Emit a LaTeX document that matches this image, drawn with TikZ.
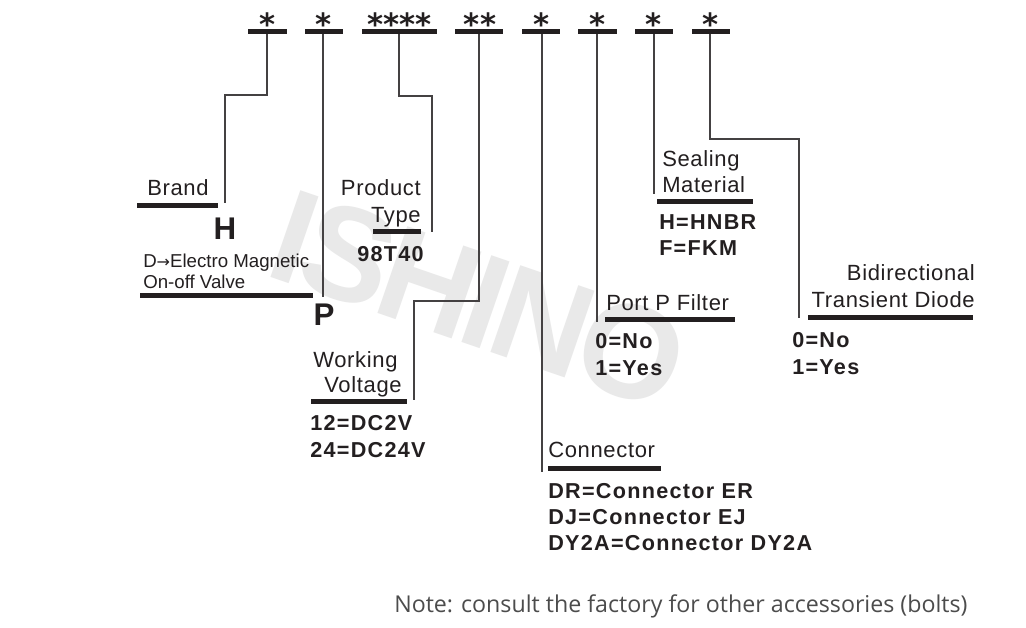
\documentclass[tikz,border=0pt]{standalone}
\usepackage{fontspec}
\setmainfont{Liberation Sans}
\newfontfamily\notefont{Open Sans}
\newfontfamily\starfont{DejaVu Sans}
\definecolor{ink}{RGB}{35,31,32}
\definecolor{wm}{RGB}{233,233,233}
\begin{document}
\begin{tikzpicture}[x=0.75pt,y=-0.75pt,
  lbl/.style={font=\fontsize{16.5}{18}\selectfont\addfontfeature{LetterSpace=3}, text=ink, inner sep=0, anchor=base west},
  lble/.style={lbl, anchor=base east},
  small/.style={font=\fontsize{14}{16}\selectfont, text=ink, inner sep=0, anchor=base west},
  val/.style={font=\fontsize{16.2}{17}\selectfont\bfseries\addfontfeature{LetterSpace=6}, text=ink, inner sep=0, anchor=base west},
  big/.style={font=\fontsize{23.5}{24}\selectfont\bfseries, text=ink, inner sep=0, anchor=base},
  star/.style={font=\starfont\bfseries\fontsize{23}{24}\selectfont, text=ink, inner sep=0, anchor=base},
  thickbar/.style={line width=3.75pt, ink},
  conn/.style={line width=1pt, ink!85},
]
\useasboundingbox[fill=white] (0,0) rectangle (1026,628);

% watermark
\node[font=\fontsize{100}{100}\selectfont\bfseries\addfontfeature{LetterSpace=-5}, text=wm, rotate=-19, inner sep=0] (wmk) at (479,300) {ISHINO};

% top code bars
\coordinate (b1) at (267,31.8);
\coordinate (b2) at (323,31.8);
\coordinate (b3) at (399,31.8);
\coordinate (b4) at (479,31.8);
\coordinate (b5) at (542,31.8);
\coordinate (b6) at (597,31.8);
\coordinate (b7) at (654,31.8);
\coordinate (b8) at (710,31.8);
\draw[thickbar] (248,31.8) -- (287,31.8);
\draw[thickbar] (305,31.8) -- (343,31.8);
\draw[thickbar] (362,31.8) -- (437,31.8);
\draw[thickbar] (455,31.8) -- (503,31.8);
\draw[thickbar] (522,31.8) -- (560,31.8);
\draw[thickbar] (578,31.8) -- (617,31.8);
\draw[thickbar] (635,31.8) -- (673,31.8);
\draw[thickbar] (692,31.8) -- (730,31.8);

\node[star] (s1) at (268,35.5) {*};
\node[star] (s2) at (324,35.5) {*};
\node[star] (s3) at (399.5,35.5) {****};
\node[star] (s4) at (480,35.5) {**};
\node[star] (s5) at (542,35.5) {*};
\node[star] (s6) at (598,35.5) {*};
\node[star] (s7) at (654,35.5) {*};
\node[star] (s8) at (711,35.5) {*};

% end points of connectors
\coordinate (e1) at (225,203);
\coordinate (e2) at (323,297);
\coordinate (e3) at (432,232);
\coordinate (e4) at (414,400);
\coordinate (e5) at (542,472);
\coordinate (e6) at (597,322);
\coordinate (e7) at (654,194);
\coordinate (e8) at (799,318);

\draw[conn] ([yshift=-1.9pt]b1) |- (225,95) -- (e1);
\draw[conn] ([yshift=-1.9pt]b2) -- (e2);
\draw[conn] ([yshift=-1.9pt]b3) |- (432,96) -- (e3);
\draw[conn] ([yshift=-1.9pt]b4) |- (414,301) -- (e4);
\draw[conn] ([yshift=-1.9pt]b5) -- (e5);
\draw[conn] ([yshift=-1.9pt]b6) -- (e6);
\draw[conn] ([yshift=-1.9pt]b7) -- (e7);
\draw[conn] ([yshift=-1.9pt]b8) |- (799,139) -- (e8);

% label underlines
\draw[thickbar] (137,205.5) -- (218,205.5);
\draw[thickbar] (140,295) -- (313,295);
\draw[thickbar] (373,231) -- (421,231);
\draw[thickbar] (311,401.5) -- (407,401.5);
\draw[thickbar] (548,468) -- (661,468);
\draw[thickbar] (605,319.5) -- (735,319.5);
\draw[thickbar] (657,201.5) -- (753,201.5);
\draw[thickbar] (808,317.5) -- (973,317.5);

% Brand
\node[lbl] (brand) at (147,195) {Brand};
\node[big] (h) at (225,239) {H};
\node[small] (d1) at (143,267) {D{\starfont\fontsize{12}{14}\selectfont →}Electro Magnetic};
\node[small] (d2) at (143,288) {On-off Valve};
\node[big] (p) at (324,325) {P};

% Product type
\node[lble] (prod1) at (421,195) {Product};
\node[lble] (prod2) at (421,222) {Type};
\node[val] (prodv) at (357,261) {98T40};

% Working voltage
\node[lbl] (wv1) at (313,367) {Working};
\node[lble] (wv2) at (402,392) {Voltage};
\node[val] (wva) at (310,430) {12=DC2V};
\node[val] (wvb) at (310,457) {24=DC24V};

% Connector
\node[lbl] (con) at (548,457) {Connector};
\node[val] (cona) at (548,498) {DR=Connector ER};
\node[val] (conb) at (548,524) {DJ=Connector EJ};
\node[val] (conc) at (548,550) {DY2A=Connector DY2A};

% Port P filter
\node[lbl] (pf) at (606,310) {Port P Filter};
\node[val] (pfa) at (595,348) {0=No};
\node[val] (pfb) at (595,375) {1=Yes};

% Sealing material
\node[lbl] (sm1) at (662,166) {Sealing};
\node[lbl] (sm2) at (662,192) {Material};
\node[val] (sma) at (659,229) {H=HNBR};
\node[val] (smb) at (659,255) {F=FKM};

% Bidirectional transient diode
\node[lble] (bd1) at (975,280) {Bidirectional};
\node[lble] (bd2) at (975,307) {Transient Diode};
\node[val] (bda) at (792,347) {0=No};
\node[val] (bdb) at (792,374) {1=Yes};

% Note
\node[font=\notefont\fontsize{17.4}{19}\selectfont, text=black!70, inner sep=0, anchor=base west] (note) at (394,612) {Note: consult the factory for other accessories (bolts)};
\end{tikzpicture}
\end{document}
